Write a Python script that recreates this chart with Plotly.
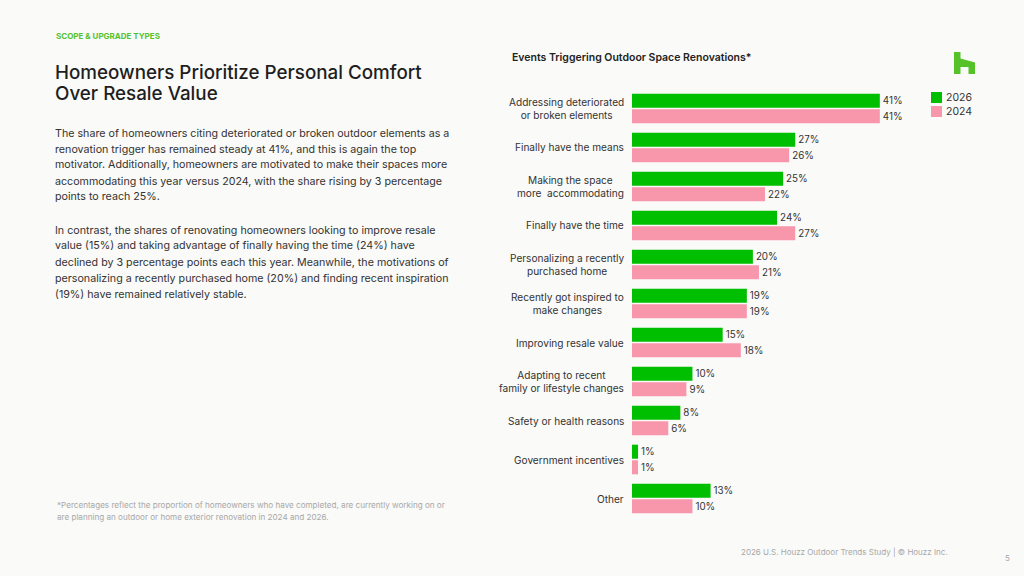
import plotly.graph_objects as go

categories = [
    "Addressing deteriorated<br>or broken elements",
    "Finally have the means",
    "Making the space<br>more  accommodating",
    "Finally have the time",
    "Personalizing a recently<br>purchased home",
    "Recently got inspired to<br>make changes",
    "Improving resale value",
    "Adapting to recent<br>family or lifestyle changes",
    "Safety or health reasons",
    "Government incentives",
    "Other",
]
keys = [f"c{i}" for i in range(len(categories))]
values_2026 = [41, 27, 25, 24, 20, 19, 15, 10, 8, 1, 13]
values_2024 = [41, 26, 22, 27, 21, 19, 18, 9, 6, 1, 10]
series_names = ["2026", "2024"]

GREEN = "#00BE00"
PINK = "#F896AC"
BG = "#FAFAF8"
FONT = "Inter"
W, H = 1024, 576

def px(x):
    return x / W

def py(y):
    return 1 - y / H

fig = go.Figure()
for name, vals, col in [(series_names[0], values_2026, GREEN), (series_names[1], values_2024, PINK)]:
    fig.add_trace(go.Bar(
        y=keys, x=vals, name=name, orientation="h",
        marker=dict(color=col, line=dict(width=0)),
        text=[f"{v}%" for v in vals], textposition="outside",
        textfont=dict(family=FONT, size=9.8, color="#333333"),
        cliponaxis=False, hoverinfo="skip", showlegend=False,
    ))

fig.update_layout(
    width=W, height=H,
    margin=dict(l=0, r=0, t=0, b=0),
    paper_bgcolor=BG, plot_bgcolor=BG,
    barmode="group", bargap=0.2, bargroupgap=0.1,
    showlegend=False,
    xaxis=dict(domain=[px(632), px(904)], range=[0, 45], visible=False, fixedrange=True),
    yaxis=dict(domain=[py(518), py(89)], autorange="reversed", showticklabels=False,
               showgrid=False, zeroline=False, showline=False, fixedrange=True),
    font=dict(family=FONT),
)

ann = []
# category labels (centered lines, right edge aligned)
for k, c in zip(keys, categories):
    ann.append(dict(x=px(626), xref="paper", y=k, yref="y", text=c, showarrow=False,
                    xanchor="right", yanchor="middle", align="center",
                    font=dict(family=FONT, size=10.1, color="#333333")))

def txt(x, y, t, size, color, weight=400, anchor="left"):
    ann.append(dict(x=px(x), y=py(y), xref="paper", yref="paper", text=t, showarrow=False,
                    xanchor=anchor, yanchor="middle", align="left",
                    font=dict(family=FONT, size=size, color=color, weight=weight)))

txt(54, 36, "SCOPE & UPGRADE TYPES", 8, "#55C22A", weight=700)
txt(53, 72, "Homeowners Prioritize Personal Comfort", 18.8, "#1E1E1E", weight=500)
txt(53, 94, "Over Resale Value", 18.8, "#1E1E1E", weight=500)

para1 = [
    "The share of homeowners citing deteriorated or broken outdoor elements as a",
    "renovation trigger has remained steady at 41%, and this is again the top",
    "motivator. Additionally, homeowners are motivated to make their spaces more",
    "accommodating this year versus 2024, with the share rising by 3 percentage",
    "points to reach 25%.",
]
para2 = [
    "In contrast, the shares of renovating homeowners looking to improve resale",
    "value (15%) and taking advantage of finally having the time (24%) have",
    "declined by 3 percentage points each this year. Meanwhile, the motivations of",
    "personalizing a recently purchased home (20%) and finding recent inspiration",
    "(19%) have remained relatively stable.",
]
for i, line in enumerate(para1):
    txt(53, 133 + 16 * i, line, 10.7, "#333333")
for i, line in enumerate(para2):
    txt(53, 230 + 16 * i, line, 10.7, "#333333")

txt(55, 505, "*Percentages reflect the proportion of homeowners who have completed, are currently working on or", 8.1, "#A8A8A8")
txt(55, 517, "are planning an outdoor or home exterior renovation in 2024 and 2026.", 8.1, "#A8A8A8")

txt(510, 58, "Events Triggering Outdoor Space Renovations*", 10.5, "#222222", weight=600)

txt(950, 552, "2026 U.S. Houzz Outdoor Trends Study | © Houzz Inc.", 8, "#A8A8A8", anchor="right")
txt(1003, 558, "5", 8, "#A8A8A8")

# custom legend
for i, (name, col) in enumerate([(series_names[0], GREEN), (series_names[1], PINK)]):
    y0 = 92 + 14 * i
    fig.add_shape(type="rect", xref="paper", yref="paper",
                  x0=px(931), x1=px(942), y0=py(y0 + 11), y1=py(y0),
                  fillcolor=col, line=dict(width=0))
    txt(944, y0 + 5.5, name, 10.5, "#333333")

fig.update_layout(annotations=ann)

# Houzz logo
pts = [(954, 52), (960.5, 52), (960.5, 58.5), (975, 62.5), (975, 74), (968.5, 74),
       (968.5, 67), (960.5, 67), (960.5, 74), (954, 74)]
path = "M " + " L ".join(f"{px(x):.5f},{py(y):.5f}" for x, y in pts) + " Z"
fig.add_shape(type="path", path=path, xref="paper", yref="paper",
              fillcolor="#55C22A", line=dict(width=0))

fig.write_html("out.html")
